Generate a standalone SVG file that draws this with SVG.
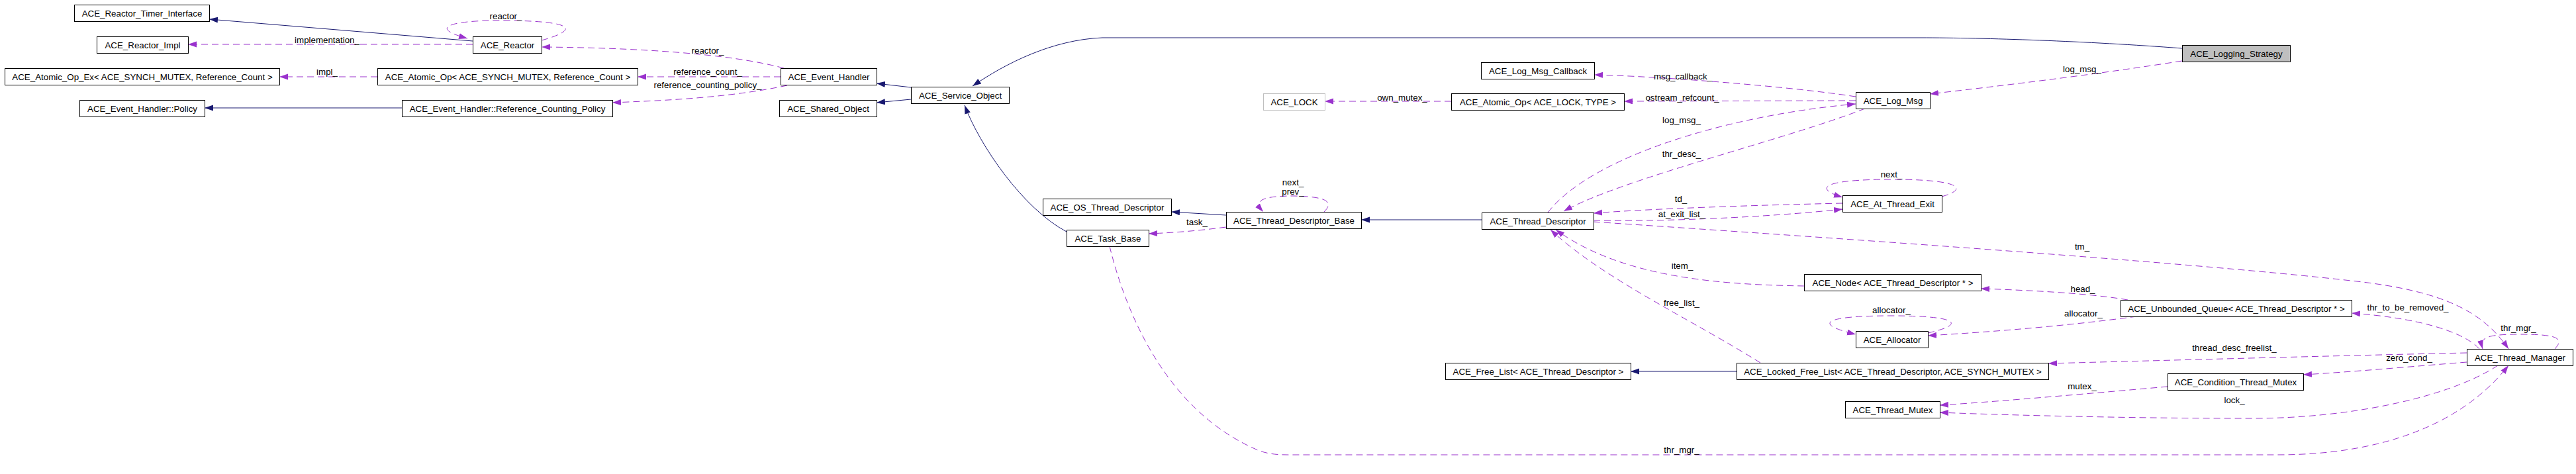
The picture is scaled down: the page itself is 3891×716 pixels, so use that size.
<svg xmlns="http://www.w3.org/2000/svg" width="3891" height="716" viewBox="0 0 3891 716">
<style>
.n rect{fill:#fff;stroke:#000;stroke-width:1}
.n text,.lbl text{font-family:"Liberation Sans",Arial,sans-serif;font-size:13.33px;fill:#000;text-anchor:middle}
.inh{fill:none;stroke:#191970;stroke-width:1;marker-end:url(#ab)}
.col{fill:none;stroke:#9a32cd;stroke-width:1;stroke-dasharray:10,6;marker-end:url(#ap)}
</style>
<defs>
<marker id="ab" markerUnits="userSpaceOnUse" markerWidth="14" markerHeight="10" refX="13" refY="4.5" orient="auto"><path d="M0,0L13,4.5L0,9z" fill="#191970"/></marker>
<marker id="ap" markerUnits="userSpaceOnUse" markerWidth="14" markerHeight="10" refX="13" refY="4.5" orient="auto"><path d="M0,0L13,4.5L0,9z" fill="#9a32cd"/></marker>
</defs>
<rect width="3891" height="716" fill="#fff"/>
<g id="edges">
<path class="inh" d="M714,62L316,29"/>
<path class="inh" d="M607,163L309,163"/>
<path class="inh" d="M1376,132L1324,126"/>
<path class="inh" d="M1376,150L1324,155"/>
<path class="inh" d="M3296,73C3150,62 3000,57 2900,57L1665,57C1590,60 1520,95 1469,130"/>
<path class="inh" d="M1611,350C1545,315 1480,220 1457,159"/>
<path class="inh" d="M2238,332L2056,332"/>
<path class="inh" d="M1852,325L1769,320"/>
<path class="inh" d="M2623,561L2463,561"/>
<path class="col" d="M818,61C875,45 870,32 765,31C690,30 640,40 706,58"/>
<path class="col" d="M714,67L284,67"/>
<path class="col" d="M570,116L422,116"/>
<path class="col" d="M1184,103C1100,80 950,72 818,71"/>
<path class="col" d="M1179,116L963,116"/>
<path class="col" d="M1189,129C1100,148 1000,152 925,155"/>
<path class="col" d="M2192,153L2001,153"/>
<path class="col" d="M2803,146C2700,130 2500,115 2408,113"/>
<path class="col" d="M2803,152L2453,153"/>
<path class="col" d="M2338,321C2400,240 2600,175 2803,157"/>
<path class="col" d="M2817,164C2700,210 2450,270 2362,319"/>
<path class="col" d="M3296,92C3150,115 3000,132 2915,142"/>
<path class="col" d="M2000,320C2015,305 2005,297 1954,296C1900,296 1895,305 1908,320"/>
<path class="col" d="M1852,343C1800,350 1760,352 1735,353"/>
<path class="col" d="M2933,297C2975,285 2960,271 2858,271C2750,271 2740,285 2783,298"/>
<path class="col" d="M2783,307C2650,310 2500,315 2407,322"/>
<path class="col" d="M2407,333C2550,335 2700,325 2783,316"/>
<path class="col" d="M2407,335C2700,355 3300,395 3560,425C3690,440 3750,470 3789,527"/>
<path class="col" d="M2725,432C2600,430 2450,420 2350,347"/>
<path class="col" d="M3214,453C3150,442 3050,438 2992,436"/>
<path class="col" d="M2659,548C2550,480 2420,420 2342,347"/>
<path class="col" d="M2912,503C2970,490 2960,477 2857,477C2750,477 2740,490 2803,505"/>
<path class="col" d="M3228,478C3100,495 2980,503 2912,507"/>
<path class="col" d="M3745,527C3720,500 3650,480 3552,473"/>
<path class="col" d="M3859,527C3875,510 3860,505 3806,505C3755,505 3745,510 3750,527"/>
<path class="col" d="M3726,533C3500,538 3250,545 3094,549"/>
<path class="col" d="M3726,547C3650,553 3550,562 3479,566"/>
<path class="col" d="M3274,584C3150,595 3000,608 2930,612"/>
<path class="col" d="M3773,552C3700,600 3550,632 3400,632C3200,632 3000,626 2930,623"/>
<path class="col" d="M1676,372C1700,470 1760,620 1900,680C1920,688 1940,687 1960,687L3440,687C3600,687 3720,640 3789,552"/>
</g>
<g id="labels" class="lbl">
<text x="764" y="29">reactor_</text>
<text x="494" y="65">implementation_</text>
<text x="494" y="113">impl_</text>
<text x="1069" y="81">reactor_</text>
<text x="1069" y="113">reference_count_</text>
<text x="1069" y="133">reference_counting_policy_</text>
<text x="2118" y="152">own_mutex_</text>
<text x="2542" y="120">msg_callback_</text>
<text x="2541" y="152">ostream_refcount_</text>
<text x="2540" y="186">log_msg_</text>
<text x="2540" y="237">thr_desc_</text>
<text x="3145" y="109">log_msg_</text>
<text x="1953" y="280">next_</text>
<text x="1953" y="294">prev_</text>
<text x="1808" y="340">task_</text>
<text x="2857" y="268">next_</text>
<text x="2539" y="305">td_</text>
<text x="2540" y="328">at_exit_list_</text>
<text x="2541" y="406">item_</text>
<text x="3145" y="377">tm_</text>
<text x="3146" y="441">head_</text>
<text x="2540" y="462">free_list_</text>
<text x="2857" y="473">allocator_</text>
<text x="3147" y="478">allocator_</text>
<text x="3637" y="469">thr_to_be_removed_</text>
<text x="3804" y="500">thr_mgr_</text>
<text x="3375" y="530">thread_desc_freelist_</text>
<text x="3639" y="545">zero_cond_</text>
<text x="3145" y="588">mutex_</text>
<text x="3375" y="609">lock_</text>
<text x="2540" y="684">thr_mgr_</text>
</g>
<g id="n_timer" class="n"><rect x="112.5" y="7.5" width="204" height="25"/><text x="214.5" y="24.5">ACE_Reactor_Timer_Interface</text></g>
<g id="n_impl" class="n"><rect x="146.5" y="55.5" width="138" height="25"/><text x="215.5" y="72.5">ACE_Reactor_Impl</text></g>
<g id="n_opex" class="n"><rect x="7.5" y="103.5" width="415" height="25"/><text x="215" y="120.5">ACE_Atomic_Op_Ex&lt; ACE_SYNCH_MUTEX, Reference_Count &gt;</text></g>
<g id="n_policy" class="n"><rect x="120.5" y="151.5" width="189" height="25"/><text x="215" y="168.5">ACE_Event_Handler::Policy</text></g>
<g id="n_reactor" class="n"><rect x="714.5" y="55.5" width="104" height="25"/><text x="766.5" y="72.5">ACE_Reactor</text></g>
<g id="n_opsync" class="n"><rect x="570.5" y="103.5" width="393" height="25"/><text x="767" y="120.5">ACE_Atomic_Op&lt; ACE_SYNCH_MUTEX, Reference_Count &gt;</text></g>
<g id="n_rcpolicy" class="n"><rect x="607.5" y="151.5" width="318" height="25"/><text x="766.5" y="168.5">ACE_Event_Handler::Reference_Counting_Policy</text></g>
<g id="n_eh" class="n"><rect x="1179.5" y="103.5" width="145" height="25"/><text x="1252" y="120.5">ACE_Event_Handler</text></g>
<g id="n_shared" class="n"><rect x="1177.5" y="151.5" width="147" height="25"/><text x="1251" y="168.5">ACE_Shared_Object</text></g>
<g id="n_so" class="n"><rect x="1376.5" y="131.5" width="148" height="25"/><text x="1450.5" y="148.5">ACE_Service_Object</text></g>
<g id="n_lock" class="n"><rect x="1908.5" y="141.5" width="93" height="25" style="stroke:#bfbfbf"/><text x="1955" y="158.5">ACE_LOCK</text></g>
<g id="n_oplock" class="n"><rect x="2192.5" y="141.5" width="261" height="25"/><text x="2323" y="158.5">ACE_Atomic_Op&lt; ACE_LOCK, TYPE &gt;</text></g>
<g id="n_cb" class="n"><rect x="2237.5" y="94.5" width="171" height="25"/><text x="2323" y="111.5">ACE_Log_Msg_Callback</text></g>
<g id="n_logmsg" class="n"><rect x="2803.5" y="139.5" width="112" height="25"/><text x="2859.5" y="156.5">ACE_Log_Msg</text></g>
<g id="n_ls" class="n"><rect x="3296.5" y="68.5" width="163" height="25" style="fill:#bfbfbf"/><text x="3378" y="85.5">ACE_Logging_Strategy</text></g>
<g id="n_ostd" class="n"><rect x="1575.5" y="300.5" width="194" height="25"/><text x="1672.5" y="317.5">ACE_OS_Thread_Descriptor</text></g>
<g id="n_tdb" class="n"><rect x="1852.5" y="320.5" width="204" height="25"/><text x="1954.5" y="337.5">ACE_Thread_Descriptor_Base</text></g>
<g id="n_task" class="n"><rect x="1611.5" y="347.5" width="124" height="25"/><text x="1673.5" y="364.5">ACE_Task_Base</text></g>
<g id="n_td" class="n"><rect x="2238.5" y="321.5" width="169" height="25"/><text x="2323" y="338.5">ACE_Thread_Descriptor</text></g>
<g id="n_ate" class="n"><rect x="2783.5" y="295.5" width="150" height="25"/><text x="2858.5" y="312.5">ACE_At_Thread_Exit</text></g>
<g id="n_node" class="n"><rect x="2725.5" y="414.5" width="267" height="25"/><text x="2859" y="431.5">ACE_Node&lt; ACE_Thread_Descriptor * &gt;</text></g>
<g id="n_uq" class="n"><rect x="3203.5" y="453.5" width="349" height="25"/><text x="3378" y="470.5">ACE_Unbounded_Queue&lt; ACE_Thread_Descriptor * &gt;</text></g>
<g id="n_alloc" class="n"><rect x="2803.5" y="500.5" width="109" height="25"/><text x="2858" y="517.5">ACE_Allocator</text></g>
<g id="n_fl" class="n"><rect x="2183.5" y="548.5" width="280" height="25"/><text x="2323.5" y="565.5">ACE_Free_List&lt; ACE_Thread_Descriptor &gt;</text></g>
<g id="n_lfl" class="n"><rect x="2623.5" y="548.5" width="471" height="25"/><text x="2859" y="565.5">ACE_Locked_Free_List&lt; ACE_Thread_Descriptor, ACE_SYNCH_MUTEX &gt;</text></g>
<g id="n_ctm" class="n"><rect x="3274.5" y="564.5" width="205" height="25"/><text x="3377" y="581.5">ACE_Condition_Thread_Mutex</text></g>
<g id="n_tmx" class="n"><rect x="2787.5" y="606.5" width="143" height="25"/><text x="2859" y="623.5">ACE_Thread_Mutex</text></g>
<g id="n_tm" class="n"><rect x="3726.5" y="527.5" width="160" height="25"/><text x="3806.5" y="544.5">ACE_Thread_Manager</text></g>
</svg>
